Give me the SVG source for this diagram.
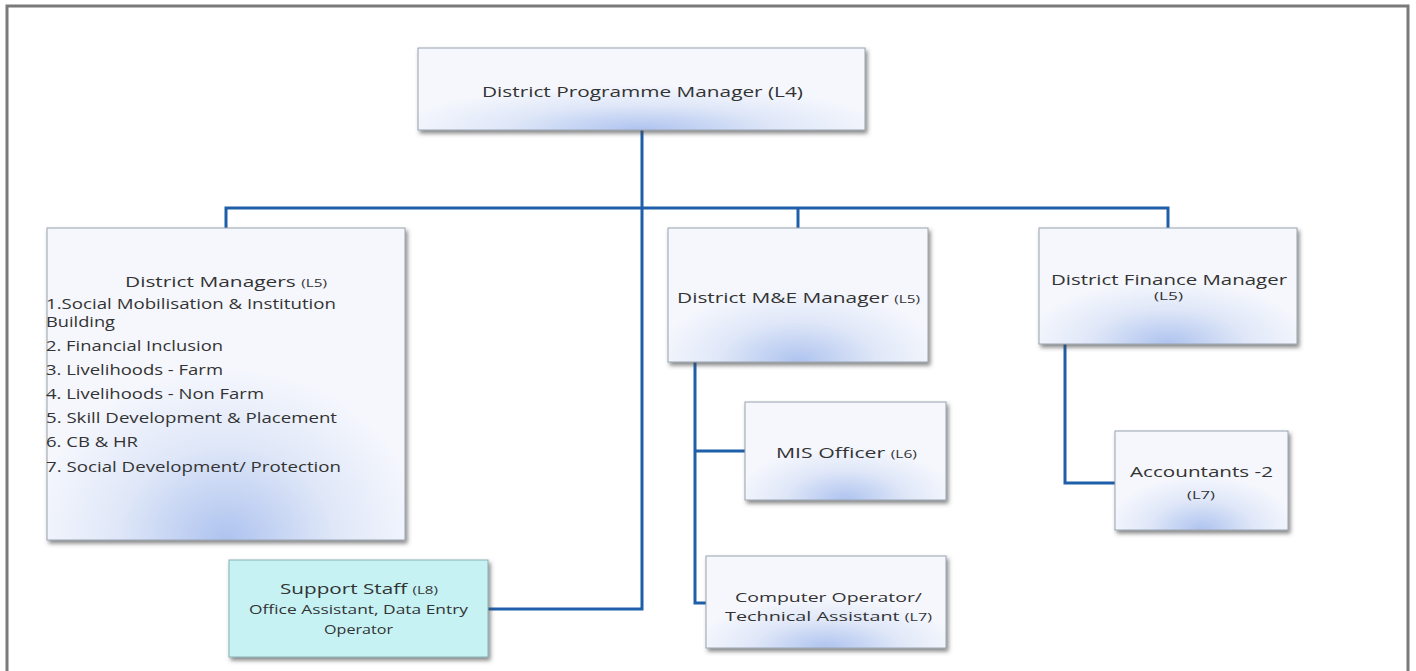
<svg xmlns="http://www.w3.org/2000/svg" width="1416" height="671" viewBox="0 0 1416 671">
<defs>
<radialGradient id="glow" cx="0.5" cy="1" r="0.55" fx="0.5" fy="1">
<stop offset="0" stop-color="#aec3ef"/>
<stop offset="0.55" stop-color="#dfe7f8"/>
<stop offset="1" stop-color="#f5f7fd"/>
</radialGradient>
<filter id="sh" x="-5%" y="-5%" width="112%" height="115%">
<feDropShadow dx="2" dy="3" stdDeviation="2" flood-color="#444" flood-opacity="0.65"/>
</filter>
<style>
.box{fill:url(#glow);stroke:#9aa3b0;stroke-width:1;filter:url(#sh)}
.cyan{fill:#c6f2f4;stroke:#8ab0b5;stroke-width:1;filter:url(#sh)}
.t{font-family:"Open Sans","Liberation Sans",sans-serif;font-size:15px;fill:#333}
.s{font-size:11px}
.c{text-anchor:middle}
.ln{fill:none;stroke:#1f5ea8;stroke-width:3}
</style>
</defs>
<rect x="0" y="0" width="1416" height="671" fill="#ffffff"/>
<path d="M7 671 V6 H1408 V671" fill="none" stroke="#7a7a7a" stroke-width="3"/>
<g id="connectors">
<path class="ln" d="M642 130 V609 H488"/>
<path class="ln" d="M226 228 V208 H1168 V228"/>
<path class="ln" d="M798 208 V228"/>
<path class="ln" d="M695 362 V603 H706"/>
<path class="ln" d="M695 451 H745"/>
<path class="ln" d="M1065 344 V483 H1115"/>
</g>
<g id="n-dpm">
<rect class="box" x="418" y="48" width="447" height="82"/>
<text class="t" x="482" y="97" textLength="321" lengthAdjust="spacingAndGlyphs">District  Programme Manager (L4)</text>
</g>
<g id="n-dm">
<rect class="box" x="47" y="228" width="358" height="312"/>
<text class="t" x="125" y="287" textLength="202" lengthAdjust="spacingAndGlyphs">District Managers <tspan class="s">(L5)</tspan></text>
<text class="t" x="46" y="309" textLength="290" lengthAdjust="spacingAndGlyphs">1.Social Mobilisation &amp; Institution</text>
<text class="t" x="46" y="327" textLength="69" lengthAdjust="spacingAndGlyphs">Building</text>
<text class="t" x="46" y="351" textLength="177" lengthAdjust="spacingAndGlyphs">2. Financial Inclusion</text>
<text class="t" x="46" y="375" textLength="177" lengthAdjust="spacingAndGlyphs">3. Livelihoods - Farm</text>
<text class="t" x="46" y="399" textLength="218" lengthAdjust="spacingAndGlyphs">4. Livelihoods - Non Farm</text>
<text class="t" x="46" y="423" textLength="291" lengthAdjust="spacingAndGlyphs">5. Skill Development &amp; Placement</text>
<text class="t" x="46" y="447" textLength="92" lengthAdjust="spacingAndGlyphs">6. CB &amp; HR</text>
<text class="t" x="46" y="472" textLength="295" lengthAdjust="spacingAndGlyphs">7. Social Development/ Protection</text>
</g>
<g id="n-support">
<rect class="cyan" x="229" y="560" width="259" height="97"/>
<text class="t" x="280" y="594" textLength="158" lengthAdjust="spacingAndGlyphs">Support Staff <tspan class="s">(L8)</tspan></text>
<text class="t" x="249" y="614" style="font-size:13px" textLength="219" lengthAdjust="spacingAndGlyphs">Office Assistant, Data Entry</text>
<text class="t" x="324" y="634" style="font-size:13px" textLength="69" lengthAdjust="spacingAndGlyphs">Operator</text>
</g>
<g id="n-me">
<rect class="box" x="668" y="228" width="260" height="134"/>
<text class="t" x="677" y="303" textLength="243" lengthAdjust="spacingAndGlyphs">District M&amp;E Manager <tspan class="s">(L5)</tspan></text>
</g>
<g id="n-fin">
<rect class="box" x="1039" y="228" width="258" height="116"/>
<text class="t" x="1051" y="285" textLength="236" lengthAdjust="spacingAndGlyphs">District Finance Manager</text>
<text class="t s" x="1154" y="300" textLength="29" lengthAdjust="spacingAndGlyphs">(L5)</text>
</g>
<g id="n-mis">
<rect class="box" x="745" y="402" width="201" height="98"/>
<text class="t" x="776" y="458" textLength="141" lengthAdjust="spacingAndGlyphs">MIS Officer <tspan class="s">(L6)</tspan></text>
</g>
<g id="n-co">
<rect class="box" x="706" y="556" width="240" height="92"/>
<text class="t" x="735" y="602" style="font-size:13.5px" textLength="187" lengthAdjust="spacingAndGlyphs">Computer Operator/</text>
<text class="t" x="725" y="621" style="font-size:13.5px" textLength="207" lengthAdjust="spacingAndGlyphs">Technical Assistant <tspan class="s">(L7)</tspan></text>
</g>
<g id="n-acc">
<rect class="box" x="1115" y="431" width="173" height="99"/>
<text class="t" x="1130" y="477" textLength="143" lengthAdjust="spacingAndGlyphs">Accountants -2</text>
<text class="t s" x="1187" y="499" textLength="28" lengthAdjust="spacingAndGlyphs">(L7)</text>
</g>
</svg>
